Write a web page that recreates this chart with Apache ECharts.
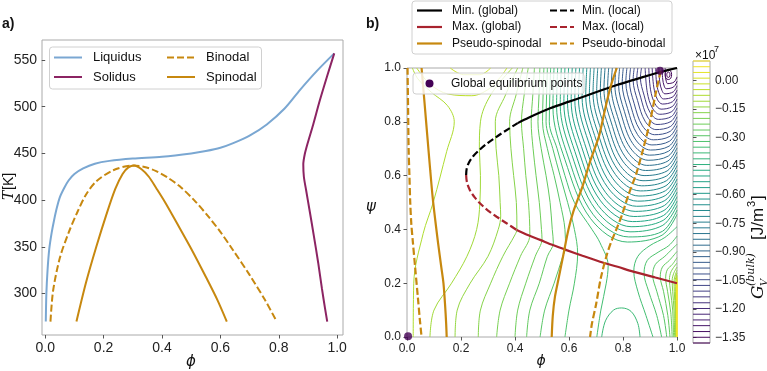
<!DOCTYPE html>
<html><head><meta charset="utf-8">
<script src="https://cdn.jsdelivr.net/npm/echarts@6/dist/echarts.min.js"></script>
<style>html,body{margin:0;padding:0;background:#fff}#c{width:767px;height:371px}</style>
</head><body><div id="c"></div>
<script>
// ---------------- Panel a data ----------------
const tickA_x = [0, 0.2, 0.4, 0.6, 0.8, 1.0];
const tickA_y = [300, 350, 400, 450, 500, 550];
const liquidus = [[.002,270],[.004,300],[.008,325],[.014,348],[.022,365],[.03,378],[.04,392],[.05,403],[.065,413],[.08,421],[.1,428],[.13,434],[.17,439],[.22,442],[.3,444.5],[.4,446.5],[.5,450],[.55,452.5],[.6,456],[.644,461],[.7,469],[.759,481],[.82,498],[.873,518],[.93,538],[.99,557]];
const solidus = [[.99,557],[.965,532],[.94,506],[.918,481],[.9,462],[.889,449],[.884,438],[.886,425],[.894,410],[.905,390],[.92,362],[.935,333],[.948,305],[.958,285],[.966,270]];
const binodal = [[.018,270],[.027,303],[.05,338],[.08,365],[.11,387],[.14,406],[.175,420],[.233,432],[.3,437],[.34,435.5],[.38,431],[.42,424],[.46,415],[.51,400],[.56,382],[.6,366],[.64,348],[.7,320],[.753,293],[.793,270]];
const spinodal = [[.107,270],[.14,312],[.175,350],[.21,385],[.24,412],[.265,428],[.285,435],[.305,437],[.33,433],[.355,425],[.38,413],[.41,398],[.45,376],[.5,348],[.55,318],[.59,293],[.622,270]];

// ---------------- Panel b data ----------------
const tickB = [0, 0.2, 0.4, 0.6, 0.8, 1.0];
const cbTicks = [0, -0.15, -0.30, -0.45, -0.60, -0.75, -0.90, -1.05, -1.20, -1.35];
const levels = [-1.378,-1.348,-1.318,-1.287,-1.257,-1.227,-1.197,-1.167,-1.136,-1.106,-1.076,-1.046,-1.016,-0.985,-0.955,-0.925,-0.895,-0.865,-0.834,-0.804,-0.774,-0.744,-0.714,-0.683,-0.653,-0.623,-0.593,-0.563,-0.532,-0.502,-0.472,-0.442,-0.412,-0.381,-0.351,-0.321,-0.291,-0.261,-0.230,-0.200,-0.170,-0.140,-0.110,-0.079,-0.049,-0.019,0.011,0.041,0.071,0.101];

// contour lines around the upper-right minimum (level index in bowlLevels)
const bowlLevels = [2,3,4,5,6,7,8,9,10,11,12,13,14,15,16,17,18,19,20,21,22,23,24,25,26,27,28,29,30,31,32,33];
const bowlLines = [
 [[.956,1],[.957,.969],[.9605,.95],[.965,.942],[.9895,.948],[1,.967]],
 [[.945,1],[.947,.959],[.9525,.933],[.96,.923],[.988,.930],[1,.9505]],
 [[.933,1],[.936,.949],[.944,.917],[.955,.904],[.9866,.9115],[1,.934]],
 [[.921,1],[.925,.939],[.936,.9],[.95,.885],[.9851,.8931],[1,.9175]],
 [[.908,1],[.914,.929],[.927,.884],[.946,.866],[.9837,.8748],[1,.901]],
 [[.8955,1],[.902,.919],[.918,.868],[.941,.847],[.9822,.8564],[1,.8845]],
 [[.882,1],[.89,.909],[.909,.851],[.936,.828],[.9808,.838],[1,.868]],
 [[.8685,1],[.8645,.9635],[.878,.899],[.9,.835],[.931,.809],[.9794,.8196],[1,.8515]],
 [[.855,1],[.851,.9595],[.866,.889],[.891,.818],[.926,.79],[.9779,.8013],[1,.835]],
 [[.8415,1],[.8375,.9555],[.854,.879],[.882,.802],[.922,.771],[.9765,.7829],[1,.8185]],
 [[.828,1],[.824,.951],[.841,.869],[.872,.785],[.917,.752],[.975,.7645],[1,.802]],
 [[.8145,1],[.8105,.947],[.829,.859],[.863,.769],[.912,.733],[.9736,.7461],[1,.7855]],
 [[.801,1],[.797,.943],[.817,.849],[.854,.752],[.907,.714],[.9722,.7278],[1,.769]],
 [[.7875,1],[.7835,.939],[.805,.839],[.845,.736],[.902,.695],[.9707,.7094],[1,.7525]],
 [[.774,1],[.77,.9346],[.793,.829],[.836,.719],[.898,.676],[.9693,.691],[1,.736]],
 [[.7605,1],[.7565,.9298],[.78,.819],[.827,.703],[.893,.657],[.9678,.6726],[1,.7195]],
 [[.747,1],[.743,.925],[.768,.809],[.818,.687],[.888,.638],[.9664,.6543],[1,.703]],
 [[.7335,1],[.7295,.9202],[.756,.799],[.808,.67],[.883,.619],[.965,.6359],[1,.6865]],
 [[.72,1],[.716,.9154],[.744,.789],[.799,.654],[.878,.6],[.9635,.6175],[1,.67]],
 [[.7065,1],[.7025,.9106],[.732,.779],[.79,.637],[.874,.581],[.9621,.5991],[1,.6535]],
 [[.693,1],[.689,.9058],[.719,.769],[.781,.621],[.869,.562],[.9606,.5808],[1,.637]],
 [[.6795,1],[.6755,.901],[.707,.759],[.772,.604],[.864,.543],[.9592,.5624],[1,.6205]],
 [[.666,1],[.662,.8962],[.695,.749],[.763,.588],[.859,.524],[.9578,.544],[1,.604]],
 [[.6525,1],[.6485,.8915],[.683,.739],[.753,.571],[.854,.505],[.9563,.5256],[1,.5875]],
 [[.639,1],[.635,.8868],[.671,.729],[.744,.555],[.85,.486],[.9549,.5073],[1,.571]],
 [[.6255,1],[.6215,.882],[.658,.719],[.735,.538],[.845,.467],[.9534,.4889],[1,.5545]],
 [[.612,1],[.608,.8773],[.646,.709],[.726,.522],[.84,.448],[.952,.4705],[1,.538]],
 [[.5985,1],[.5945,.8726],[.634,.699],[.717,.506],[.835,.429],[.9506,.4521],[1,.5215]],
 [[.585,1],[.581,.8679],[.622,.689],[.708,.489],[.83,.41],[.9491,.4338],[1,.505]],
 [[.5715,1],[.5675,.8631],[.61,.679],[.699,.473],[.826,.391],[.9477,.4154],[1,.4885]],
 [[.558,1],[.554,.8584],[.597,.669],[.689,.456],[.821,.372],[.9462,.393],[1,.472]],
 [[.5445,1],[.5405,.8537],[.585,.659],[.68,.44],[.816,.353],[.9448,.3786],[1,.4555]]
];
// closed loops (minimum and bottom local minimum)
const loopLevels = [0, 1, 33];
const loopLines = [
 [[.962,.975],[.964,.967],[.968,.965],[.972,.967],[.974,.975],[.972,.983],[.968,.985],[.964,.983],[.962,.975]],
 [[.956,.975],[.959,.962],[.968,.957],[.977,.962],[.98,.975],[.977,.988],[.968,.993],[.959,.988],[.956,.975]],
 [[.721,0],[.735,.06],[.765,.1],[.795,.108],[.83,.095],[.855,.05],[.863,0]]
];
// lines running from top edge to bottom edge (left part)
const leftLevels = [34,35,36,37,38,39,40,41,42,43,44,45];
const leftLines = [
 [[.703,0],[.718,.1],[.738,.2],[.745,.265],[.715,.35],[.685,.4],[.62,.5],[.585,.6],[.556,.7],[.527,.8],[.529,.9],[.532,1]],
 [[.585,0],[.6,.1],[.62,.2],[.632,.31],[.62,.4],[.595,.5],[.567,.6],[.54,.7],[.515,.8],[.517,.9],[.52,1]],
 [[.493,0],[.51,.1],[.545,.2],[.577,.3],[.587,.33],[.585,.4],[.567,.5],[.545,.6],[.52,.7],[.502,.8],[.504,.9],[.507,1]],
 [[.443,0],[.455,.1],[.49,.2],[.52,.3],[.542,.35],[.538,.4],[.53,.5],[.515,.6],[.497,.7],[.485,.8],[.489,.9],[.492,1]],
 [[.4,0],[.41,.1],[.44,.2],[.475,.3],[.5,.365],[.498,.4],[.49,.5],[.478,.6],[.467,.7],[.46,.8],[.466,.9],[.472,1]],
 [[.332,0],[.345,.1],[.38,.2],[.42,.3],[.455,.38],[.45,.5],[.44,.6],[.432,.7],[.424,.8],[.434,.9],[.449,1]],
 [[.264,0],[.272,.1],[.31,.2],[.355,.3],[.4,.38],[.407,.4],[.405,.5],[.395,.6],[.385,.7],[.38,.8],[.404,.9],[.429,1]],
 [[.178,0],[.186,.1],[.234,.2],[.3,.3],[.338,.4],[.347,.45],[.345,.5],[.34,.6],[.33,.7],[.327,.8],[.365,.9],[.41,1]],
 [[.085,0],[.1,.1],[.165,.2],[.222,.3],[.258,.4],[.27,.5],[.272,.6],[.268,.7],[.272,.8],[.31,.9],[.39,1]],
 [[.023,0],[.025,.2],[.06,.385],[.097,.5],[.147,.69],[.175,.8],[.15,.86],[.09,.91],[.04,.96],[.02,1]],
 [[.036,1],[.085,.94],[.153,.903],[.24,.897],[.3,.92],[.345,.965],[.37,1]],
 [[.16,1],[.21,.975],[.27,.975],[.31,1]]
];
// lines around the high lower-right corner
const rightLevels = [34,35,36,37,38,39,40,41,42,43,44,45,46,47,48,49];
const rightLines = [
 [[.911,0],[.885,.08],[.855,.17],[.84,.245],[.855,.3],[.9,.34],[.955,.37],[1,.41]],
 [[.943,0],[.925,.08],[.895,.17],[.878,.237],[.89,.285],[.93,.315],[.97,.34],[1,.375]],
 [[.962,0],[.95,.08],[.925,.17],[.91,.23],[.92,.27],[.955,.3],[1,.345]],
 [[.974,0],[.966,.08],[.95,.17],[.938,.224],[.946,.26],[.972,.285],[1,.318]],
 [[.982,0],[.977,.09],[.965,.17],[.958,.218],[.964,.25],[.983,.27],[1,.295]],
 [[.987,0],[.984,.1],[.976,.17],[.972,.213],[.978,.243],[1,.275]],
 [[.991,0],[.989,.1],[.984,.17],[.982,.21],[.988,.237],[1,.26]],
 [[.994,0],[.993,.1],[.99,.17],[.989,.207],[1,.248]],
 [[.996,0],[.995,.1],[.994,.17],[.993,.205],[1,.238]],
 [[.9972,0],[.997,.1],[.9965,.2],[1,.23]],
 [[.998,0],[.998,.1],[.9977,.2],[1,.225]],
 [[.9986,0],[.9985,.2],[1,.22]],
 [[.999,0],[.999,.2],[1,.216]],
 [[.9994,0],[.9994,.2],[1,.212]],
 [[.9997,0],[.9997,.2],[1,.208]],
 [[.9999,0],[.9999,.2],[1,.204]]
];
// overlay curves
const minGlobal = [[.41,.795],[.45,.815],[.53,.85],[.6,.875],[.653,.893],[.72,.917],[.777,.937],[.84,.956],[.9,.974],[.95,.988],[1,1]];
const minLocal = [[.219,.602],[.221,.625],[.23,.65],[.245,.672],[.27,.697],[.3,.722],[.34,.75],[.375,.773],[.41,.795]];
const maxLocal = [[.219,.602],[.222,.575],[.233,.546],[.25,.52],[.27,.497],[.3,.47],[.332,.447],[.37,.422],[.406,.398]];
const maxGlobal = [[.406,.398],[.45,.378],[.493,.361],[.54,.342],[.591,.323],[.65,.302],[.715,.28],[.78,.261],[.838,.243],[.92,.221],[1,.2]];
const pseudoSpinodalL = [[.054,1],[.065,.87],[.075,.75],[.086,.62],[.096,.51],[.115,.35],[.127,.26],[.135,.2],[.141,.12],[.145,.05],[.147,0]];
const pseudoSpinodalR = [[.777,1],[.76,.95],[.746,.9],[.73,.83],[.712,.75],[.695,.7],[.678,.652],[.65,.56],[.616,.466],[.598,.4],[.579,.305],[.562,.22],[.548,.15],[.54,.08],[.536,0]];
const pseudoBinodalL = [[.002,1],[.004,.85],[.006,.7],[.009,.6],[.012,.5],[.016,.42],[.022,.35],[.03,.26],[.04,.15],[.048,.06],[.054,0]];
const pseudoBinodalR = [[.94,.99],[.92,.9],[.9,.8],[.875,.7],[.85,.61],[.82,.528],[.795,.45],[.777,.404],[.755,.35],[.74,.305],[.718,.22],[.7,.12],[.685,.05],[.678,0]];
const globalEq = [[.004,.003],[.937,.99]];

// ---------------- styling helpers ----------------
const FONT = '"Liberation Sans", Arial, sans-serif';
const VIR = ['#440154','#482475','#414487','#355f8d','#2a788e','#21918c','#22a884','#44bf70','#7ad151','#bddf26','#fde725'];
function hex2rgb(h){return [parseInt(h.slice(1,3),16),parseInt(h.slice(3,5),16),parseInt(h.slice(5,7),16)];}
function viridis(t){t=Math.max(0,Math.min(1,t));const s=t*(VIR.length-1);const k=Math.min(VIR.length-2,Math.floor(s));const f=s-k;const a=hex2rgb(VIR[k]),b=hex2rgb(VIR[k+1]);return 'rgb('+a.map((v,j)=>Math.round(v+(b[j]-v)*f)).join(',')+')';}
function levelColor(i){return viridis((levels[i]-levels[0])/(levels[levels.length-1]-levels[0]));}

const C_LIQ='#7aa7d2', C_SOL='#8c2463', C_GOLD='#c7880f', C_RED='#a8232e';

const series = [];
function pa(name, data, color, dashed){
  series.push({name, type:'line', xAxisIndex:0, yAxisIndex:0, data, symbol:'none', smooth:0.3, silent:true,
    lineStyle:{color, width:2, type: dashed?[7,3]:'solid'}, z:3});
}
pa('Liquidus', liquidus, C_LIQ); pa('Solidus', solidus, C_SOL); pa('Binodal', binodal, C_GOLD, true); pa('Spinodal', spinodal, C_GOLD);

function addContours(lines, lvls){
  lines.forEach((pts,k)=>{
    series.push({type:'line', xAxisIndex:1, yAxisIndex:1, data:pts, symbol:'none', smooth:0.35, silent:true, clip:true,
      lineStyle:{color:levelColor(lvls[k]), width:1}, z:1});
  });
}
addContours(bowlLines, bowlLevels); addContours(loopLines, loopLevels); addContours(leftLines, leftLevels); addContours(rightLines, rightLevels);

function pb(name, data, color, dashed){
  series.push({name, type:'line', xAxisIndex:1, yAxisIndex:1, data, symbol:'none', smooth:0.3, silent:true, clip:true,
    lineStyle:{color, width:2.2, type: dashed?[7,3]:'solid'}, z:4});
}
pb('Min. (global)', minGlobal, '#000'); pb('Min. (local)', minLocal, '#000', true);
pb('Max. (global)', maxGlobal, C_RED); pb('Max. (local)', maxLocal, C_RED, true);
pb('Pseudo-spinodal', pseudoSpinodalL, C_GOLD); pb('Pseudo-spinodal', pseudoSpinodalR, C_GOLD);
pb('Pseudo-binodal', pseudoBinodalL, C_GOLD, true); pb('Pseudo-binodal', pseudoBinodalR, C_GOLD, true);
series.push({name:'Global equilibrium points', type:'scatter', xAxisIndex:1, yAxisIndex:1, data:globalEq, symbolSize:8,
  itemStyle:{color:'#440154'}, z:6, silent:true});

// colorbar lines
series.push({type:'custom', xAxisIndex:2, yAxisIndex:2, data: levels.map(v=>[0.5, v]), silent:true,
  renderItem:(params, api)=>{
    const p = api.coord([0, api.value(1)]); const cs = params.coordSys;
    return {type:'line', shape:{x1:cs.x, y1:p[1], x2:cs.x+cs.width, y2:p[1]}, style:{stroke:levelColor(params.dataIndex), lineWidth:1}};
  }});

const tickStyle = {length:3.5, lineStyle:{color:'#555', width:1}};
function valAxis(grid, min, max, ticks, fmt, fs, extra){
  return Object.assign({gridIndex:grid, type:'value', min, max, splitLine:{show:false}, axisLine:{show:false},
    axisTick:Object.assign({show:true, customValues:ticks}, tickStyle),
    axisLabel:{customValues:ticks, formatter:fmt, fontSize:fs, color:'#222', fontFamily:FONT, margin:6}}, extra||{});
}
const f1 = v=>v.toFixed(1);

const option = {
  animation:false,
  backgroundColor:'#fff',
  grid:[
    {left:42, top:40, width:301, height:295, show:true, borderColor:'#aaa', borderWidth:1, backgroundColor:'transparent'},
    {left:407, top:68, width:270, height:269, show:true, borderColor:'#aaa', borderWidth:1, backgroundColor:'transparent'},
    {left:693, top:61, width:17, height:282, show:true, borderColor:'#aaa', borderWidth:1, backgroundColor:'transparent'}
  ],
  xAxis:[
    valAxis(0, -0.011, 1.02, tickA_x, f1, 14),
    valAxis(1, 0, 1, tickB, f1, 12),
    {gridIndex:2, type:'value', min:0, max:1, show:false}
  ],
  yAxis:[
    valAxis(0, 255.65, 571.35, tickA_y, v=>String(Math.round(v)), 14, {}),
    valAxis(1, 0, 1, tickB, f1, 12),
    valAxis(2, -1.378, 0.101, cbTicks, v=>v.toFixed(2).replace('-','\u2212'), 12, {position:'right'})
  ],
  series,
  graphic:{elements:[]}
};
option.yAxis[0].axisLabel.margin = 5;
option.yAxis[2].axisLabel.margin = 5;

const G = option.graphic.elements;
function txt(x,y,text,font,align,valign,extra){
  G.push(Object.assign({type:'text', x, y, z:100, silent:true,
    style:{text, font, fill:'#111', align:align||'left', verticalAlign:valign||'middle', textAlign:align||'left', textVerticalAlign:valign||'middle'}}, extra||{}));
}
function seg(x1,y1,x2,y2,color,w,dash){
  G.push({type:'line', z:100, silent:true, shape:{x1,y1,x2,y2}, style:{stroke:color, lineWidth:w, lineDash:dash||null}});
}
function box(x,y,w,h){
  G.push({type:'rect', z:99, silent:true, shape:{x,y,width:w,height:h,r:3}, style:{fill:'rgba(255,255,255,0.8)', stroke:'#d0d0d0', lineWidth:1}});
}
// panel labels
txt(2,24,'a)','bold 14px '+FONT);
txt(366,24,'b)','bold 14px '+FONT);
// legend panel a
box(49.5,47,212,42);
seg(54,57.5,82,57.5,C_LIQ,2); txt(93,57.5,'Liquidus','13px '+FONT);
seg(54,77,82,77,C_SOL,2); txt(93,77,'Solidus','13px '+FONT);
seg(167,57.5,195,57.5,C_GOLD,2,[7,3]); txt(206,57.5,'Binodal','13px '+FONT);
seg(167,77,195,77,C_GOLD,2); txt(206,77,'Spinodal','13px '+FONT);
// legend panel b
box(412,1,260,53);
seg(417,10.5,442,10.5,'#000',2.2); txt(452,10.5,'Min. (global)','12px '+FONT);
seg(417,27,442,27,C_RED,2.2); txt(452,27,'Max. (global)','12px '+FONT);
seg(417,43.5,442,43.5,C_GOLD,2.2); txt(452,43.5,'Pseudo-spinodal','12px '+FONT);
seg(550,10.5,574,10.5,'#000',2.2,[7,3]); txt(582,10.5,'Min. (local)','12px '+FONT);
seg(550,27,574,27,C_RED,2.2,[7,3]); txt(582,27,'Max. (local)','12px '+FONT);
seg(550,43.5,574,43.5,C_GOLD,2.2,[7,3]); txt(582,43.5,'Pseudo-binodal','12px '+FONT);
// global equilibrium legend
box(413,73,171,21);
G.push({type:'circle', z:100, silent:true, shape:{cx:429.5, cy:83.5, r:4}, style:{fill:'#440154'}});
txt(451,83.5,'Global equilibrium points','12px '+FONT);
// axis titles
txt(191,362,'\u03d5','italic 15px "DejaVu Sans"','center');
txt(541,361,'\u03d5','italic 14px "DejaVu Sans"','center');
txt(371,207,'\u03c8','italic 15px "DejaVu Sans"','center');
G.push({type:'group', x:9, y:186, rotation:Math.PI/2, z:100, silent:true, children:[
  {type:'text', x:-14, y:0, style:{text:'T', font:'italic 14px "DejaVu Serif"', fill:'#111', align:'left', verticalAlign:'middle'}},
  {type:'text', x:-4, y:0, style:{text:'[K]', font:'14px '+FONT, fill:'#111', align:'left', verticalAlign:'middle'}}
]});
// colorbar annotations
txt(695,56,'\u00d710','12px '+FONT);
txt(714,50,'7','9px '+FONT);
G.push({type:'group', x:758, y:232, rotation:Math.PI/2, z:100, silent:true, children:[
  {type:'text', x:-67, y:1, style:{text:'G', font:'italic 17px "DejaVu Serif"', fill:'#111', align:'left', verticalAlign:'middle'}},
  {type:'text', x:-54, y:6, style:{text:'V', font:'italic 10px "DejaVu Serif"', fill:'#111', align:'left', verticalAlign:'middle'}},
  {type:'text', x:-54, y:-7, style:{text:'(bulk)', font:'italic 11px "DejaVu Serif"', fill:'#111', align:'left', verticalAlign:'middle'}},
  {type:'text', x:-8, y:0, style:{text:'[J/m', font:'17px '+FONT, fill:'#111', align:'left', verticalAlign:'middle'}},
  {type:'text', x:25, y:-6, style:{text:'3', font:'11px '+FONT, fill:'#111', align:'left', verticalAlign:'middle'}},
  {type:'text', x:32, y:0, style:{text:']', font:'17px '+FONT, fill:'#111', align:'left', verticalAlign:'middle'}}
]});

const chart = echarts.init(document.getElementById('c'));
chart.setOption(option);
</script></body></html>
